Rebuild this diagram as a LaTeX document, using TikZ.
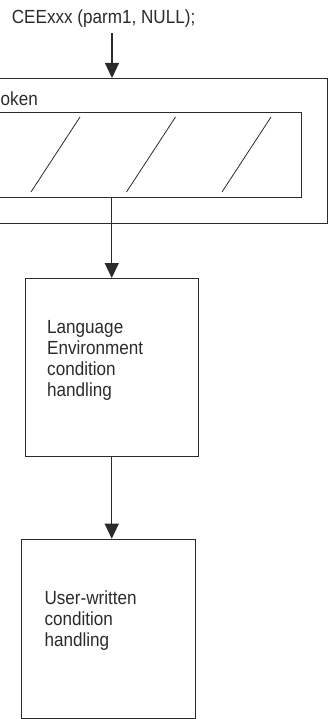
\documentclass[tikz,border=0pt]{standalone}
\usepackage{fontspec}
\setmainfont[FakeStretch=0.9]{Liberation Sans}
\usetikzlibrary{arrows.meta}
\definecolor{ink}{HTML}{2B2B2B}
\begin{document}
\begin{tikzpicture}[x=1pt,y=-1pt,
  line/.style={draw=ink,line width=1.1pt},
  arr/.style={line,-{Triangle[width=14pt,length=15pt]}},
  boxnode/.style={draw=ink,line width=1.1pt,anchor=north west,inner sep=0pt},
  txt/.style={font=\fontsize{19}{21}\selectfont,text=ink,inner sep=0pt},
  lbl/.style={txt,align=left,anchor=north west}]
\clip (0,0) rectangle (328,719);
\fill[white] (0,0) rectangle (328,719);
% title
\node[txt,anchor=base west] (title) at (11.7,24) {CEExxx (parm1, NULL);};
% outer and inner boxes
\node[boxnode,minimum width=347.3pt,minimum height=145.3pt] (outer) at (-20,78) {};
\node[txt,anchor=base west] (token) at (0.5,106) {oken};
\node[boxnode,minimum width=320.7pt,minimum height=84.4pt] (inner) at (-20,112.3) {};
% hatching
\foreach \x in {31,126.5,222}{
  \draw[line,line width=0.8pt] (\x,192) -- (\x+49,117);
}
% box 2
\node[boxnode,minimum width=173pt,minimum height=178pt] (env) at (24.7,278) {};
\node[lbl] (envtxt) at (47,320.3) {Language\\Environment\\condition\\handling};
% box 3
\node[boxnode,minimum width=173.4pt,minimum height=179.6pt] (user) at (21.3,538.7) {};
\node[lbl] (usertxt) at (44.3,590.3) {User-written\\condition\\handling};
% connectors
\coordinate (start) at (112,33);
\draw[arr] (start) -- (start |- outer.north);
\draw[arr] (inner.south -| env.north) -- (env.north);
\draw[arr] (env.south) -- (env.south |- user.north);
\end{tikzpicture}
\end{document}
